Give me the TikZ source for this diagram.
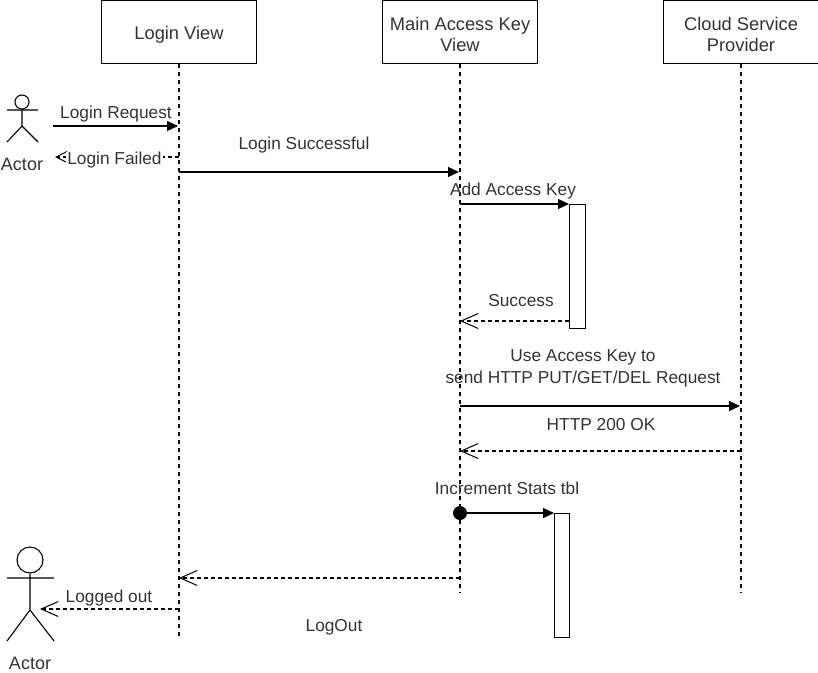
\documentclass[tikz,border=0pt]{standalone}
\usepackage{fontspec}
\setmainfont{Liberation Sans}
\usetikzlibrary{arrows.meta}
\tikzset{
  x=1pt,y=-1pt,
  head/.style={draw=black,fill=white,line width=1.1pt,minimum width=155pt,minimum height=63pt,inner sep=0pt},
  headtxt/.style={align=center,inner sep=0pt,font=\fontsize{18.3}{21}\selectfont,text=black!80,yshift=-2.5pt},
  life/.style={line width=1.2pt,dash pattern=on 4pt off 4pt},
  txt/.style={font=\fontsize{17.3}{22}\selectfont,text=black!80,inner sep=0pt,align=center},
  acttxt/.style={font=\fontsize{18}{22}\selectfont,text=black!80,inner sep=0pt},
  syncmsg/.style={line width=1.2pt,-{Triangle[length=11pt,width=10pt]}},
  retmsg/.style={line width=1.1pt,dash pattern=on 4pt off 3pt,-{Straight Barb[length=17pt,width=15pt,line width=1pt]}},
  actbar/.style={draw=black,fill=white,line width=1.1pt,inner sep=0pt,anchor=north west},
  stick/.style={line width=1.1pt}
}
\begin{document}
\begin{tikzpicture}
\useasboundingbox (0,0) rectangle (818,672);
% lifelines heads
\node[head,label={[headtxt]center:Login View}] (lv) at (179,32) {};
\node[head,label={[headtxt]center:Main Access Key\\View}] (mv) at (460,32) {};
\node[head,label={[headtxt]center:Cloud Service\\Provider}] (cv) at (741,32) {};
\coordinate (lvend) at (179,640);
\coordinate (mvend) at (460,593);
\coordinate (cvend) at (741,593);
\draw[life] (lv.south) -- (lvend);
\draw[life] (mv.south) -- (mvend);
\draw[life] (cv.south) -- (cvend);
% activations
\node[actbar,minimum width=16pt,minimum height=124pt] (a1) at (569,204) {};
\node[actbar,minimum width=15pt,minimum height=124pt] (a2) at (554,513) {};
% actor 1
\node[draw,circle,stick,minimum size=14pt,inner sep=0pt] (h1) at (22,102) {};
\coordinate (b1) at (22,126);
\coordinate (al1) at (7,110); \coordinate (ar1) at (38,110);
\coordinate (ll1) at (7,142); \coordinate (lr1) at (38,142);
\draw[stick] (h1.south) -- (b1) (al1) -- (ar1) (ll1) -- (b1) -- (lr1);
\node[acttxt] (t1) at (22,164) {Actor};
% actor 2
\node[draw,circle,stick,minimum size=26pt,inner sep=0pt] (h2) at (30,560) {};
\coordinate (b2) at (30,610);
\coordinate (al2) at (7,578); \coordinate (ar2) at (54,578);
\coordinate (ll2) at (7,641); \coordinate (lr2) at (54,641);
\draw[stick] (h2.south) -- (b2) (al2) -- (ar2) (ll2) -- (b2) -- (lr2);
\node[acttxt] (t2) at (30,663) {Actor};
% message ends
\coordinate (m1a) at (53,126); \coordinate (m1b) at (178,126);
\coordinate (m2a) at (179,157); \coordinate (m2b) at (55,157);
\coordinate (m3a) at (179,172); \coordinate (m3b) at (459,172);
\coordinate (m4a) at (460,204);
\coordinate (m5b) at (460,321);
\coordinate (m6a) at (460,406); \coordinate (m6b) at (740,406);
\coordinate (m7a) at (741,451); \coordinate (m7b) at (460,451);
\coordinate (m9a) at (460,578); \coordinate (m9b) at (179,578);
\coordinate (m10a) at (179,609); \coordinate (m10b) at (40,609);
\node[circle,fill=black,minimum size=14pt,inner sep=0pt] (dot) at (460,513) {};
\draw[syncmsg] (m1a) -- (m1b);
\draw[line width=1.1pt,dash pattern=on 4pt off 3pt,-{Straight Barb[length=11pt,width=11pt,line width=1pt]}] (m2a) -- (m2b);
\draw[syncmsg] (m3a) -- (m3b);
\draw[syncmsg] (m4a) -- (a1.north west);
\draw[retmsg] (a1.west |- m5b) -- (m5b);
\draw[syncmsg] (m6a) -- (m6b);
\draw[retmsg] (m7a) -- (m7b);
\draw[syncmsg] (dot.center) -- (a2.north west);
\draw[retmsg] (m9a) -- (m9b);
\draw[retmsg] (m10a) -- (m10b);
% labels
\node[txt] (l1) at (116,114) {Login Request};
\node[txt,fill=white,inner xsep=1pt] (l2) at (114.5,160) {Login Failed};
\node[txt] (l3) at (304,145) {Login Successful};
\node[txt] (l4) at (513,191) {Add Access Key};
\node[txt] (l5) at (521,301) {Success};
\node[txt] (l6) at (583,368) {Use Access Key to\\send HTTP PUT/GET/DEL Request};
\node[txt] (l7) at (601,425) {HTTP 200 OK};
\node[txt] (l8) at (507,488) {Increment Stats tbl};
\node[txt] (l9) at (109,598) {Logged out};
\node[txt] (l10) at (334,627) {LogOut};
\end{tikzpicture}
\end{document}
